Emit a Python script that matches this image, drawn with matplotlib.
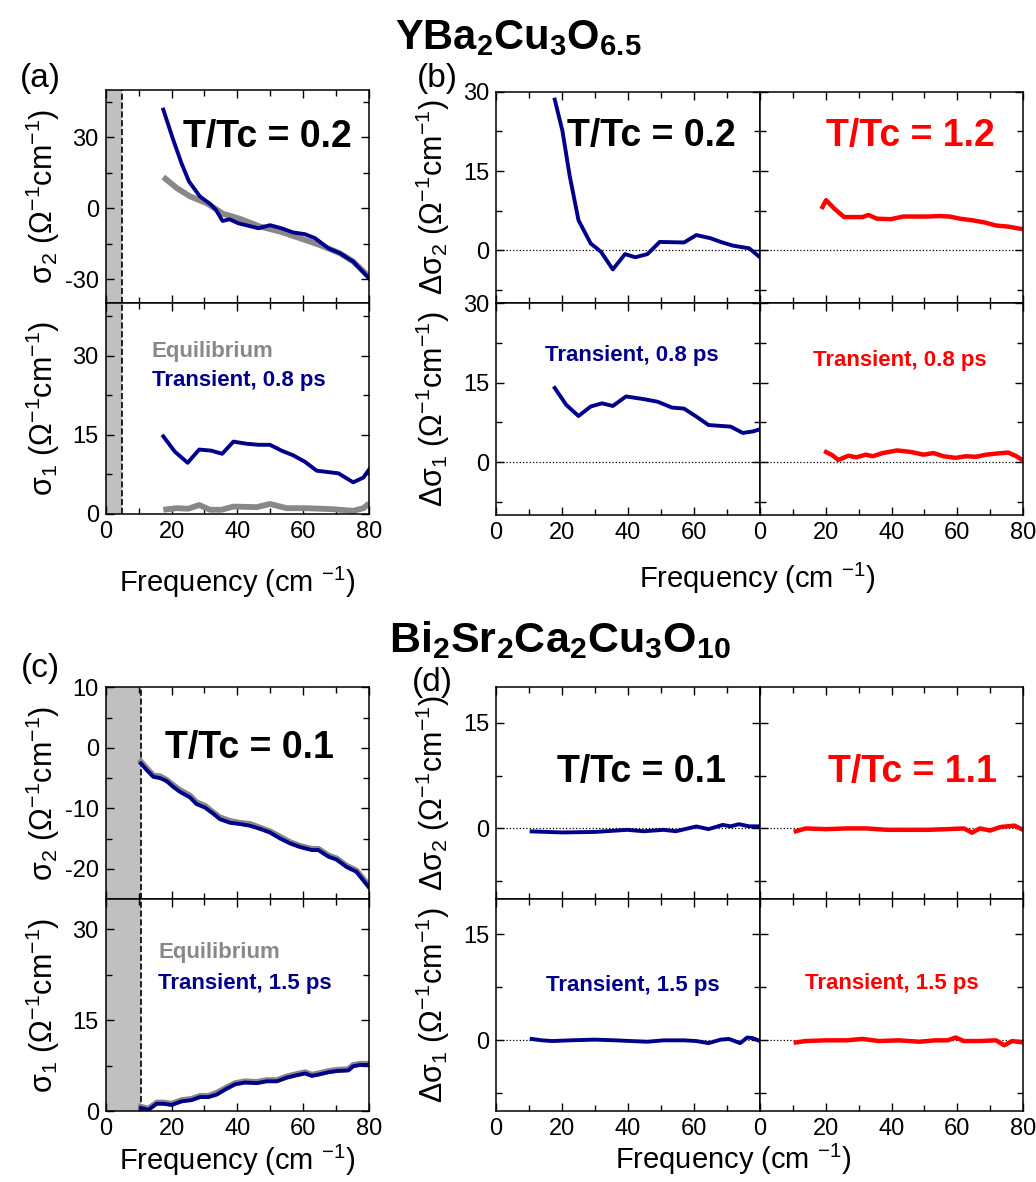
import numpy as np
import matplotlib
matplotlib.use("Agg")
from matplotlib import pyplot as plt
from matplotlib.ticker import FixedLocator

plt.rcParams['font.family'] = ['Liberation Sans', 'DejaVu Sans']
plt.rcParams['mathtext.fontset'] = 'custom'
plt.rcParams['mathtext.rm'] = 'Liberation Sans'
plt.rcParams['mathtext.it'] = 'Liberation Sans:italic'
plt.rcParams['mathtext.bf'] = 'Liberation Sans:bold'
plt.rcParams['axes.unicode_minus'] = False

NAVY = '#00008b'
GRAY = '#888888'
RED = '#ff0000'

# --- YBa2Cu3O6.5, panel (a) ---
a_s2_tr_x = [17.5, 20.5, 23, 25.3, 28.6, 31.8, 33.5, 35.5, 37.6, 40.3, 46.4, 49.9, 53.4, 57, 60.5, 63.6, 67.7, 71.2, 75.2, 80]
a_s2_tr_y = [41.7, 29, 19.1, 11.3, 5, 1.7, -0.7, -5.4, -4.7, -6.4, -8.5, -7.2, -8.5, -10.3, -11, -12.7, -17, -19.1, -22.6, -29.7]
a_s2_eq_x = [17.5, 21.6, 25.6, 30.7, 35.7, 40.8, 46.9, 53, 59, 65.1, 71.2, 75.2, 80]
a_s2_eq_y = [13.2, 8.5, 5, 2.1, -2.4, -4.5, -7.8, -9.9, -12.7, -15.6, -19.1, -22.6, -29]
a_s1_tr_x = [17.5, 21, 24.9, 28.4, 32, 35.4, 38.8, 42.8, 46.4, 49.9, 53.4, 57, 60.5, 64.1, 70.7, 75.2, 78.3, 80]
a_s1_tr_y = [14.7, 11.8, 9.7, 12.2, 12, 11.4, 13.7, 13.3, 13.1, 13.1, 12, 11.1, 9.9, 8.2, 7.7, 6, 6.9, 8.4]
a_s1_eq_x = [17.5, 21.6, 25.1, 28.4, 31.7, 35.2, 38.8, 45.9, 49.9, 55, 61, 69.2, 75.2, 78.3, 80]
a_s1_eq_y = [0.8, 1.1, 1, 1.7, 0.8, 0.8, 1.4, 1.3, 1.9, 1.1, 1.1, 0.9, 0.6, 1.1, 2]

# --- YBa2Cu3O6.5, panel (b) ---
b_ds2_lo_x = [17.8, 20.1, 22.3, 25, 28.7, 31.8, 35.4, 39.1, 42.2, 45.9, 49.6, 57, 60.7, 65, 68.1, 71.8, 76.7, 80]
b_ds2_lo_y = [28.5, 22.7, 14.2, 5.7, 1.3, -0.25, -3.6, -0.7, -1.3, -0.7, 1.6, 1.5, 2.9, 2.3, 1.6, 0.9, 0.4, -1.3]
b_ds2_hi_x = [19, 20.1, 22.6, 25.6, 28.7, 31.2, 33, 35.5, 39.8, 43.5, 47.2, 50.9, 54.6, 57.7, 60.8, 64.5, 68.2, 71.8, 75.5, 80]
b_ds2_hi_y = [8.2, 9.5, 7.9, 6.3, 6.3, 6.3, 6.7, 6, 5.9, 6.4, 6.4, 6.4, 6.5, 6.4, 6, 5.7, 5.3, 4.7, 4.5, 4]
b_ds1_lo_x = [17.8, 21.3, 25, 28.7, 32.1, 35.4, 39.4, 44.7, 49, 53.3, 57, 60.7, 64.4, 71.1, 74.8, 77.9, 80]
b_ds1_lo_y = [14, 10.8, 8.7, 10.5, 11.1, 10.6, 12.4, 11.9, 11.4, 10.3, 10.1, 8.6, 7, 6.7, 5.5, 5.8, 6.2]
b_ds1_hi_x = [20.1, 22, 23.8, 26.9, 29.3, 32.2, 34.3, 37.3, 41.7, 46, 49.7, 52.8, 55.8, 59.5, 62.6, 65.7, 68.8, 71.8, 75.5, 78, 80]
b_ds1_hi_y = [1.9, 1.3, 0.4, 1.2, 0.9, 1.4, 1.1, 1.7, 2.2, 1.9, 1.4, 1.7, 1.1, 0.8, 1.1, 1, 1.4, 1.6, 1.8, 1.1, 0.3]

# --- Bi2Sr2Ca2Cu3O10, panel (c) ---
c_s2_x = [10.7, 12.5, 14.5, 16.5, 18.5, 20.6, 22.6, 25.6, 27.6, 30.2, 32.7, 34.7, 37.8, 40.8, 43.9, 46.9, 49.9, 53, 56, 59, 62.6, 64.6, 67.7, 70.2, 73.2, 76.2, 80]
c_s2_tr_y = [-2.6, -3.7, -4.8, -5.0, -5.5, -6.5, -7.3, -8.2, -9.3, -9.9, -10.9, -11.8, -12.4, -12.6, -12.9, -13.4, -14, -15, -15.8, -16.4, -16.9, -16.9, -18, -18.5, -19.7, -20.5, -23.1]
c_s2_eq_y = [-2.3, -3.4, -4.6, -4.7, -5.3, -6.2, -7.0, -7.9, -9.0, -9.6, -10.7, -11.5, -12.1, -12.4, -12.6, -13.2, -13.8, -14.7, -15.6, -16.2, -16.7, -16.7, -17.8, -18.3, -19.5, -20.3, -22.8]
c_s1_x = [10.7, 13, 15.5, 17.5, 20, 23.1, 26.1, 28.7, 31.2, 33.7, 36.8, 39.3, 42.3, 45.9, 48.9, 52, 55, 58, 60.6, 62.6, 64.6, 67.7, 70.2, 73.7, 75.2, 77.3, 80]
c_s1_tr_y = [0.5, 0.2, 1.2, 1.2, 1, 1.6, 1.8, 2.3, 2.3, 2.7, 3.7, 4.4, 4.7, 4.6, 4.9, 4.9, 5.5, 5.9, 6.2, 5.8, 6, 6.4, 6.6, 6.7, 7.4, 7.6, 7.6]
c_s1_eq_y = [0.7, 0.4, 1.4, 1.4, 1.2, 1.8, 2.0, 2.5, 2.5, 3.0, 3.9, 4.6, 4.9, 4.8, 5.1, 5.1, 5.7, 6.1, 6.4, 6.0, 6.2, 6.6, 6.8, 6.9, 7.6, 7.8, 7.8]

# --- Bi2Sr2Ca2Cu3O10, panel (d) ---
d_ds2_lo_x = [10.8, 20, 29.9, 39.8, 44.7, 50.8, 54.5, 60.7, 64.4, 68.7, 71.1, 73.6, 76.7, 80]
d_ds2_lo_y = [-0.42, -0.57, -0.5, -0.2, -0.4, -0.2, -0.4, 0.28, -0.1, 0.5, 0.3, 0.6, 0.3, 0.3]
d_ds2_hi_x = [10.9, 13.9, 20.1, 26.3, 32.4, 38.6, 44.8, 50.9, 57.1, 62, 64.5, 66.9, 70, 73.1, 77.4, 80]
d_ds2_hi_y = [-0.4, 0, -0.1, 0, 0, -0.2, -0.2, -0.2, -0.1, 0, -0.6, 0, -0.3, 0.2, 0.4, -0.2]
d_ds1_lo_x = [10.8, 13.9, 17, 22.5, 29.9, 36.1, 40.9, 45.9, 50.8, 57, 60.7, 64.4, 68.1, 70.6, 74, 76.1, 77.9, 80]
d_ds1_lo_y = [0.2, 0, -0.1, 0, 0.1, 0, -0.1, -0.2, 0, 0, -0.1, -0.4, 0.1, 0.2, -0.4, 0.4, 0.3, -0.1]
d_ds1_hi_x = [10.9, 13.9, 20.1, 26.3, 31.2, 36.2, 42.3, 48.4, 53.3, 57.1, 59.5, 62, 66.9, 71.8, 74.3, 76.7, 80]
d_ds1_hi_y = [-0.3, -0.1, 0, 0, 0.2, -0.1, 0, -0.2, 0, 0, 0.4, -0.1, -0.1, 0, -0.7, -0.1, -0.3]

x_major = [0, 20, 40, 60, 80]
x_minor = [10, 30, 50, 70]

W, H = 1036, 1182
fig = plt.figure(figsize=(W / 100, H / 100), dpi=100)


def px_axes(x0, x1, ytop, ybot):
    return fig.add_axes([x0 / W, 1 - ybot / H, (x1 - x0) / W, (ybot - ytop) / H])


def style(ax, ylim, major, minor, xlabels=True, ylabels=True, last_x=True):
    ax.set_xlim(0, 80)
    ax.set_ylim(*ylim)
    ax.set_xticks(x_major)
    ax.xaxis.set_minor_locator(FixedLocator(x_minor))
    ax.set_yticks(major)
    ax.yaxis.set_minor_locator(FixedLocator(minor))
    ax.tick_params(which='both', direction='in', top=True, right=True, width=1, labelsize=17)
    ax.tick_params(which='major', length=6, pad=5)
    ax.tick_params(which='minor', length=4)
    for s in ax.spines.values():
        s.set_linewidth(1.1)
    if not xlabels:
        ax.set_xticklabels([])
    elif not last_x:
        ax.set_xticklabels(['0', '20', '40', '60', ''])
    if not ylabels:
        ax.set_yticklabels([])


ylab2 = 'σ$_2$ (Ω$^{-1}$cm$^{-1}$)'
ylab1 = 'σ$_1$ (Ω$^{-1}$cm$^{-1}$)'
dylab2 = 'Δσ$_2$ (Ω$^{-1}$cm$^{-1}$)'
dylab1 = 'Δσ$_1$ (Ω$^{-1}$cm$^{-1}$)'
xlab = 'Frequency (cm $^{-1}$)'
bold = dict(fontweight='bold')
YL = 22
XL = 21
BIG = 27
SMALL = 16
YLX = -0.165

# ---------------- panel (a) ----------------
a_top = px_axes(105.7, 369, 90, 302.7)
a_bot = px_axes(105.7, 369, 302.7, 514)
for ax in [a_top, a_bot]:
    ax.axvspan(0, 5, color='#c0c0c0', lw=0)
    ax.axvline(5, color='black', ls='--', lw=1.2)
a_top.plot(a_s2_eq_x, a_s2_eq_y, color=GRAY, lw=4.2, solid_capstyle='butt')
a_top.plot(a_s2_tr_x, a_s2_tr_y, color=NAVY, lw=2.8)
a_bot.plot(a_s1_eq_x, a_s1_eq_y, color=GRAY, lw=4.2, solid_capstyle='butt')
a_bot.plot(a_s1_tr_x, a_s1_tr_y, color=NAVY, lw=2.8)
style(a_top, (-40, 50), [-30, 0, 30], [-15, 15, 45], xlabels=False)
style(a_bot, (0, 40), [0, 15, 30], [7.5, 22.5, 37.5])
a_top.set_ylabel(ylab2, fontsize=YL)
a_bot.set_ylabel(ylab1, fontsize=YL)
a_top.yaxis.set_label_coords(YLX, 0.5)
a_bot.yaxis.set_label_coords(YLX, 0.5)
a_bot.set_xlabel(xlab, fontsize=XL, labelpad=16)
a_top.text(0.294, 0.78, 'T/Tc = 0.2', transform=a_top.transAxes, fontsize=BIG, va='center', **bold)
a_bot.text(0.175, 0.77, 'Equilibrium', transform=a_bot.transAxes, fontsize=SMALL, color=GRAY, va='center', **bold)
a_bot.text(0.175, 0.634, 'Transient, 0.8 ps', transform=a_bot.transAxes, fontsize=SMALL, color=NAVY, va='center', **bold)

# ---------------- panel (b) ----------------
b_tl = px_axes(496, 760, 91.7, 303.3)
b_tr = px_axes(760, 1023, 91.7, 303.3)
b_bl = px_axes(496, 760, 303.3, 515)
b_br = px_axes(760, 1023, 303.3, 515)
for ax in [b_tl, b_tr, b_bl, b_br]:
    ax.axhline(0, color='black', ls=':', lw=0.9)
b_tl.plot(b_ds2_lo_x, b_ds2_lo_y, color=NAVY, lw=2.8)
b_tr.plot(b_ds2_hi_x, b_ds2_hi_y, color=RED, lw=3.2)
b_bl.plot(b_ds1_lo_x, b_ds1_lo_y, color=NAVY, lw=2.8)
b_br.plot(b_ds1_hi_x, b_ds1_hi_y, color=RED, lw=3.2)
style(b_tl, (-10, 30), [0, 15, 30], [-7.5, 7.5, 22.5], xlabels=False)
style(b_tr, (-10, 30), [0, 15, 30], [-7.5, 7.5, 22.5], xlabels=False, ylabels=False)
style(b_bl, (-10, 30), [0, 15, 30], [-7.5, 7.5, 22.5], last_x=False)
style(b_br, (-10, 30), [0, 15, 30], [-7.5, 7.5, 22.5], ylabels=False)
b_tl.set_ylabel(dylab2, fontsize=YL)
b_bl.set_ylabel(dylab1, fontsize=YL)
b_tl.yaxis.set_label_coords(YLX, 0.5)
b_bl.yaxis.set_label_coords(YLX, 0.5)
b_tl.text(0.27, 0.79, 'T/Tc = 0.2', transform=b_tl.transAxes, fontsize=BIG, va='center', **bold)
b_tr.text(0.25, 0.79, 'T/Tc = 1.2', transform=b_tr.transAxes, fontsize=BIG, va='center', color=RED, **bold)
b_bl.text(0.186, 0.755, 'Transient, 0.8 ps', transform=b_bl.transAxes, fontsize=SMALL, color=NAVY, va='center', **bold)
b_br.text(0.2, 0.73, 'Transient, 0.8 ps', transform=b_br.transAxes, fontsize=SMALL, color=RED, va='center', **bold)
fig.text(757 / W, 1 - 578 / H, xlab, fontsize=XL, ha='center', va='center')

# ---------------- panel (c) ----------------
c_top = px_axes(105.7, 369, 687.3, 899)
c_bot = px_axes(105.7, 369, 899, 1111)
for ax in [c_top, c_bot]:
    ax.axvspan(0, 10.8, color='#c0c0c0', lw=0)
    ax.axvline(10.8, color='black', ls='--', lw=1.2)
c_top.plot(c_s2_x, c_s2_eq_y, color=GRAY, lw=4.2)
c_top.plot(c_s2_x, c_s2_tr_y, color=NAVY, lw=2.8)
c_bot.plot(c_s1_x, c_s1_eq_y, color=GRAY, lw=4.2)
c_bot.plot(c_s1_x, c_s1_tr_y, color=NAVY, lw=2.8)
style(c_top, (-25, 10), [-20, -10, 0, 10], [-25, -15, -5, 5], xlabels=False)
style(c_bot, (0, 35), [0, 15, 30], [7.5, 22.5])
c_top.set_ylabel(ylab2, fontsize=YL)
c_bot.set_ylabel(ylab1, fontsize=YL)
c_top.yaxis.set_label_coords(YLX, 0.5)
c_bot.yaxis.set_label_coords(YLX, 0.5)
c_bot.set_xlabel(xlab, fontsize=XL, labelpad=2)
c_top.text(0.225, 0.712, 'T/Tc = 0.1', transform=c_top.transAxes, fontsize=BIG, va='center', **bold)
c_bot.text(0.2, 0.747, 'Equilibrium', transform=c_bot.transAxes, fontsize=SMALL, color=GRAY, va='center', **bold)
c_bot.text(0.2, 0.6, 'Transient, 1.5 ps', transform=c_bot.transAxes, fontsize=SMALL, color=NAVY, va='center', **bold)

# ---------------- panel (d) ----------------
d_tl = px_axes(496, 760, 687.3, 899)
d_tr = px_axes(760, 1023, 687.3, 899)
d_bl = px_axes(496, 760, 899, 1111)
d_br = px_axes(760, 1023, 899, 1111)
for ax in [d_tl, d_tr, d_bl, d_br]:
    ax.axhline(0, color='black', ls=':', lw=0.9)
d_tl.plot(d_ds2_lo_x, d_ds2_lo_y, color=NAVY, lw=2.8)
d_tr.plot(d_ds2_hi_x, d_ds2_hi_y, color=RED, lw=3.2)
d_bl.plot(d_ds1_lo_x, d_ds1_lo_y, color=NAVY, lw=2.8)
d_br.plot(d_ds1_hi_x, d_ds1_hi_y, color=RED, lw=3.2)
style(d_tl, (-10, 20), [0, 15], [-7.5, 7.5], xlabels=False)
style(d_tr, (-10, 20), [0, 15], [-7.5, 7.5], xlabels=False, ylabels=False)
style(d_bl, (-10, 20), [0, 15], [-7.5, 7.5], last_x=False)
style(d_br, (-10, 20), [0, 15], [-7.5, 7.5], ylabels=False)
d_tl.set_ylabel(dylab2, fontsize=YL)
d_bl.set_ylabel(dylab1, fontsize=YL)
d_tl.yaxis.set_label_coords(YLX, 0.5)
d_bl.yaxis.set_label_coords(YLX, 0.5)
d_tl.text(0.23, 0.6, 'T/Tc = 0.1', transform=d_tl.transAxes, fontsize=BIG, va='center', **bold)
d_tr.text(0.26, 0.6, 'T/Tc = 1.1', transform=d_tr.transAxes, fontsize=BIG, va='center', color=RED, **bold)
d_bl.text(0.19, 0.594, 'Transient, 1.5 ps', transform=d_bl.transAxes, fontsize=SMALL, color=NAVY, va='center', **bold)
d_br.text(0.17, 0.6, 'Transient, 1.5 ps', transform=d_br.transAxes, fontsize=SMALL, color=RED, va='center', **bold)
fig.text(733 / W, 1 - 1159 / H, xlab, fontsize=XL, ha='center', va='center')

# ---------------- titles and panel letters ----------------
fig.text(518 / W, 1 - 38 / H, r'$\mathbf{YBa_2Cu_3O_{6.5}}$', fontsize=30, ha='center', va='center')
fig.text(560 / W, 1 - 640 / H, r'$\mathbf{Bi_2Sr_2Ca_2Cu_3O_{10}}$', fontsize=31, ha='center', va='center')
for lab, x, y in [('(a)', 40, 78), ('(b)', 437, 78), ('(c)', 40, 668), ('(d)', 432, 683)]:
    fig.text(x / W, 1 - y / H, lab, fontsize=24, ha='center', va='center')

fig.savefig('out.png', dpi=100)
